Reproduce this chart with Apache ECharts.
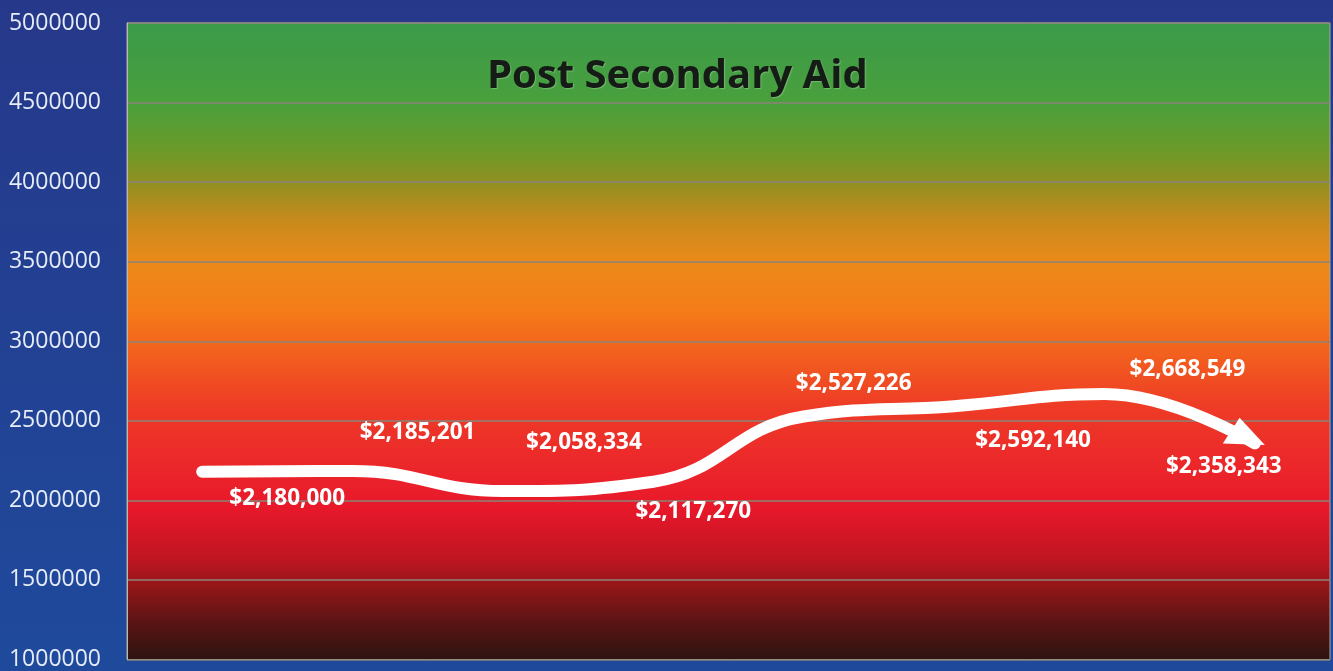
<!DOCTYPE html>
<html>
<head>
<meta charset="utf-8">
<script src="https://cdn.jsdelivr.net/npm/echarts@6/dist/echarts.min.js"></script>
<style>
html,body{margin:0;padding:0;background:#233c8c;}
#chart{width:1333px;height:671px;}
</style>
</head>
<body>
<div id="chart"></div>
<script>
// ---- data ----
const categories = ['1', '2', '3', '4', '5', '6', '7', '8'];
const aidValues = [2180000, 2185201, 2058334, 2117270, 2527226, 2592140, 2668549, 2358343];
const aidLabels = ['$2,180,000', '$2,185,201', '$2,058,334', '$2,117,270', '$2,527,226', '$2,592,140', '$2,668,549', '$2,358,343'];
const yMin = 1000000, yMax = 5000000, yStep = 500000;
const chartTitle = 'Post Secondary Aid';

// ---- presentation (label placement relative to each point) ----
const labelShift = [[85, 27], [65, -38], [81, -48], [40, 30], [50, -33], [79, 34], [83, -24], [-20, 35]];
// arrow head pointing down-right (pre-rotated triangle)
const arrowPath = 'path://M42,33.7L0,31.8L16.8,0Z';

const seriesData = aidValues.map((v, i) => {
  const item = {
    value: v,
    label: { offset: labelShift[i], formatter: aidLabels[i] }
  };
  if (i === aidValues.length - 1) {
    item.symbol = arrowPath;
    item.symbolSize = [42, 34];
    item.symbolKeepAspect = true;
    item.symbolOffset = [-11, -12];
  }
  return item;
});

const chart = echarts.init(document.getElementById('chart'));
chart.setOption({
  backgroundColor: new echarts.graphic.LinearGradient(0, 0, 0, 1, [
    { offset: 0, color: '#26388a' },
    { offset: 1, color: '#1f4a9c' }
  ]),
  animation: false,
  title: {
    text: chartTitle,
    left: 482,
    top: 52,
    textStyle: {
      fontFamily: 'Open Sans',
      fontWeight: 'bold',
      fontSize: 40,
      color: '#151b15',
      textShadowColor: 'rgba(255,255,255,0.25)',
      textShadowOffsetX: 1,
      textShadowOffsetY: 1,
      textShadowBlur: 1
    }
  },
  grid: {
    left: 127,
    right: 3,
    top: 23,
    bottom: 11,
    show: true,
    borderWidth: 1,
    borderColor: '#aaa9a0',
    backgroundColor: new echarts.graphic.LinearGradient(0, 0, 0, 1, [
      { offset: 0, color: '#3b9a4a' },
      { offset: 0.125, color: '#49a03c' },
      { offset: 0.2, color: '#6c9a2a' },
      { offset: 0.25, color: '#8f9020' },
      { offset: 0.31, color: '#c88a1c' },
      { offset: 0.375, color: '#ea8a1a' },
      { offset: 0.45, color: '#f57c18' },
      { offset: 0.52, color: '#f2601e' },
      { offset: 0.6, color: '#ee3c26' },
      { offset: 0.68, color: '#ec2a2a' },
      { offset: 0.76, color: '#e8182a' },
      { offset: 0.84, color: '#c01522' },
      { offset: 0.88, color: '#981618' },
      { offset: 0.94, color: '#5c1414' },
      { offset: 1, color: '#2c1410' }
    ])
  },
  xAxis: {
    type: 'category',
    data: categories,
    boundaryGap: true,
    axisLine: { show: false },
    axisTick: { show: false },
    axisLabel: { show: false },
    splitLine: { show: false }
  },
  yAxis: {
    type: 'value',
    min: yMin,
    max: yMax,
    interval: yStep,
    axisLine: { show: true, lineStyle: { color: '#b8b8b0', width: 1 } },
    axisTick: { show: false },
    axisLabel: {
      margin: 26,
      color: '#e6ecf8',
      fontFamily: 'Open Sans',
      fontSize: 23,
      formatter: (v) => String(v)
    },
    splitLine: { show: true, lineStyle: { color: '#8a8478', width: 1.5 } }
  },
  series: [{
    type: 'line',
    data: seriesData,
    smooth: 0.45,
    symbol: 'circle',
    symbolSize: 2,
    itemStyle: { color: '#ffffff' },
    lineStyle: { color: '#ffffff', width: 12, cap: 'round' },
    label: {
      show: true,
      position: 'inside',
      color: '#ffffff',
      fontFamily: 'Open Sans',
      fontWeight: 'bold',
      fontSize: 22.5
    }
  }]
});
</script>
</body>
</html>
